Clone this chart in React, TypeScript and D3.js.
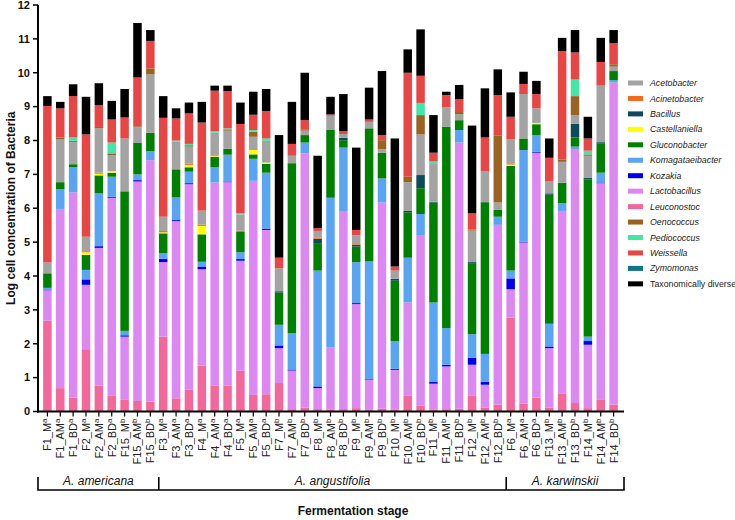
import React from "react";
import * as d3 from "d3";

// fermentation samples, left to right
const samples = [
  "F1_M", "F1_AM", "F1_BD", "F2_M", "F2_AM", "F2_BD", "F15_M", "F15_AM", "F15_BD",
  "F3_M", "F3_AM", "F3_BD", "F4_M", "F4_AM", "F4_BD", "F5_M", "F5_AM", "F5_BD",
  "F7_M", "F7_AM", "F7_BD", "F8_M", "F8_AM", "F8_BD", "F9_M", "F9_AM", "F9_BD",
  "F10_M", "F10_AM", "F10_BD", "F11_M", "F11_AM", "F11_BD", "F12_M", "F12_AM", "F12_BD",
  "F6_M", "F6_AM", "F6_BD", "F13_M", "F13_AM", "F13_BD", "F14_M", "F14_AM", "F14_BD",
];
const superscripts = [
  "a", "a", "a", "a", "a", "a", "b", "b", "b",
  "a", "a", "a", "a", "a", "a", "a", "a", "a",
  "b", "b", "b", "b", "b", "b", "b", "b", "b",
  "b", "b", "b", "b", "b", "b", "b", "b", "b",
  "a", "a", "a", "b", "b", "b", "b", "b", "b",
];

const species = [
  { name: "A. americana", first: 0, last: 8 },
  { name: "A. angustifolia", first: 9, last: 35 },
  { name: "A. karwinskii", first: 36, last: 44 },
];

// log cell concentration contributed by each genus
const leuconostoc = [2.68, 0.69, 0.41, 1.84, 0.76, 0.46, 0.36, 0.31, 0.29, 2.21, 0.39, 0.64, 1.36, 0.77, 0.77, 1.2, 0.49, 0.51, 0.84, 0.07, 0.12, 0.07, 0.05, 0.07, 0.1, 0.05, 0.08, 0.05, 0.46, 0.18, 0.05, 0.07, 0.08, 0.46, 0.12, 0.2, 2.77, 0.23, 0.41, 0.12, 0.52, 0.25, 0.1, 0.36, 0.2];
const lactobacillus = [0.9, 5.29, 6.06, 1.9, 4.07, 5.85, 1.85, 6.48, 7.13, 2.2, 5.23, 6.07, 2.84, 5.99, 6.0, 3.25, 6.32, 4.85, 1.03, 1.14, 7.5, 0.62, 1.84, 5.85, 3.07, 0.88, 6.09, 1.18, 2.76, 5.01, 0.77, 1.26, 7.86, 0.92, 0.67, 5.31, 0.84, 4.76, 7.23, 1.75, 5.4, 7.5, 1.87, 6.38, 9.51];
const kozakia = [0.02, 0, 0, 0.16, 0.05, 0.03, 0.04, 0.04, 0, 0.1, 0.03, 0.03, 0.08, 0, 0.02, 0.05, 0, 0.04, 0.08, 0.03, 0, 0.05, 0, 0, 0.03, 0.02, 0, 0.03, 0, 0, 0.05, 0.05, 0, 0.21, 0.09, 0, 0.32, 0.02, 0.03, 0.05, 0, 0, 0.11, 0.02, 0];
const komagataeibacter = [0.05, 0.58, 0.74, 0.28, 1.56, 0.59, 0.13, 0.17, 0.27, 0.16, 0.67, 0.34, 0.14, 0.45, 0.79, 0.2, 0.65, 1.65, 0.61, 1.07, 0.32, 3.42, 4.42, 1.87, 1.21, 3.48, 0.71, 0.82, 1.32, 0.64, 2.35, 1.08, 0.37, 0.69, 0.82, 0.24, 0.23, 2.71, 0.49, 0.67, 0.23, 0.07, 0.13, 0.29, 0.07];
const gluconobacter = [0.43, 0.21, 0.09, 0.44, 0.53, 0.12, 4.12, 0.9, 0.54, 0.59, 0.81, 0.13, 0.81, 0.31, 0.18, 0.6, 0.13, 0.26, 0.95, 5.02, 0.22, 0.79, 2.0, 0.22, 0.46, 3.93, 0.76, 1.78, 1.34, 0.76, 2.95, 5.95, 0.29, 2.1, 4.48, 0.2, 3.09, 0.34, 0.32, 3.81, 0.57, 0.27, 4.64, 0.87, 0.27];
const castellaniella = [0, 0, 0, 0.08, 0.05, 0.05, 0, 0, 0, 0.03, 0, 0.07, 0.25, 0.02, 0, 0, 0.13, 0.04, 0, 0, 0, 0, 0, 0, 0, 0, 0, 0, 0, 0, 0, 0, 0, 0, 0, 0, 0.04, 0, 0.04, 0, 0, 0, 0, 0, 0];
const bacillus = [0, 0, 0, 0, 0, 0, 0, 0.04, 0, 0, 0, 0, 0, 0, 0, 0, 0, 0, 0.04, 0, 0, 0.15, 0, 0.07, 0.05, 0, 0, 0.06, 0.04, 0.39, 0.02, 0, 0, 0.03, 0, 0, 0, 0, 0, 0.04, 0.03, 0.4, 0.05, 0.03, 0];
const acinetobacter = [0, 0, 0, 0.03, 0.03, 0, 0, 0, 0, 0.04, 0.03, 0.04, 0.04, 0.02, 0, 0.04, 0, 0, 0, 0, 0, 0.04, 0, 0, 0.02, 0, 0, 0, 0, 0, 0, 0, 0, 0, 0, 0, 0.02, 0, 0, 0, 0, 0, 0, 0, 0];
const acetobacter = [0.32, 1.26, 0.66, 0.43, 1.31, 0.47, 1.56, 0.45, 1.72, 0.42, 0.8, 0.5, 0.41, 0.67, 0.53, 0.48, 0.39, 0.64, 0.68, 0.22, 0.13, 0.19, 0.42, 0.11, 0.26, 0.19, 0.1, 0.24, 0.85, 1.2, 1.14, 0.57, 0.18, 0.93, 0.92, 0.22, 0.72, 1.31, 0.43, 0.35, 0.62, 0.26, 0.65, 1.67, 0.13];
const oenococcus = [0, 0.06, 0.03, 0, 0.04, 0.05, 0, 0.03, 0.18, 0, 0, 0.04, 0, 0, 0.04, 0, 0.15, 0, 0, 0, 0.04, 0, 0, 0, 0, 0, 0.27, 0, 0.16, 0.57, 0, 0, 0.06, 0.03, 0, 1.97, 0, 0, 0, 0, 0.07, 0.56, 0.04, 0, 0.07];
const pediococcus = [0, 0, 0.1, 0, 0, 0.32, 0, 0, 0, 0, 0.04, 0.04, 0, 0.05, 0.03, 0.03, 0.05, 0.07, 0, 0, 0, 0, 0, 0, 0, 0, 0, 0, 0, 0.36, 0.05, 0, 0, 0, 0, 0, 0, 0, 0, 0, 0, 0.49, 0.11, 0, 0];
const weissella = [4.62, 0.86, 1.22, 3.02, 0.64, 0.68, 0.62, 1.44, 0.81, 2.92, 0.65, 0.9, 2.6, 1.19, 1.1, 2.64, 0.45, 0.81, 0.31, 0.35, 0.27, 0.08, 0.04, 0.09, 0.16, 0.07, 0.15, 0.12, 3.07, 0.8, 0.26, 0.36, 0.38, 0.48, 0.99, 1.2, 0.67, 0.3, 0.42, 0.7, 3.2, 0.8, 0.36, 0.7, 0.62];
const zymomonas = [0, 0, 0, 0, 0, 0, 0, 0, 0, 0, 0, 0, 0, 0, 0, 0, 0, 0, 0, 0, 0, 0, 0, 0, 0, 0, 0, 0, 0, 0, 0, 0, 0, 0, 0, 0, 0, 0, 0, 0, 0, 0, 0, 0, 0];
const taxDiverse = [0.29, 0.19, 0.35, 1.11, 0.65, 0.55, 0.84, 1.61, 0.32, 0.64, 0.3, 0.32, 0.61, 0.15, 0.16, 0.63, 0.68, 0.65, 3.62, 1.24, 1.4, 2.14, 0.52, 1.09, 2.43, 0.94, 1.89, 3.78, 0.69, 1.37, 1.11, 0.1, 0.42, 2.59, 1.45, 0.76, 0.72, 0.36, 0.39, 0.57, 0.39, 0.66, 0.64, 0.71, 0.39];

// legend order (alphabetical, "Taxonomically diverse" last)
const genera = [
  { key: "acetobacter", label: "Acetobacter", color: "#a3a3a3", values: acetobacter, italic: true },
  { key: "acinetobacter", label: "Acinetobacter", color: "#f26a1b", values: acinetobacter, italic: true },
  { key: "bacillus", label: "Bacillus", color: "#0c4a5c", values: bacillus, italic: true },
  { key: "castellaniella", label: "Castellaniella", color: "#ffff00", values: castellaniella, italic: true },
  { key: "gluconobacter", label: "Gluconobacter", color: "#008000", values: gluconobacter, italic: true },
  { key: "komagataeibacter", label: "Komagataeibacter", color: "#5aa4f4", values: komagataeibacter, italic: true },
  { key: "kozakia", label: "Kozakia", color: "#0000ee", values: kozakia, italic: true },
  { key: "lactobacillus", label: "Lactobacillus", color: "#dc87f2", values: lactobacillus, italic: true },
  { key: "leuconostoc", label: "Leuconostoc", color: "#f4679a", values: leuconostoc, italic: true },
  { key: "oenococcus", label: "Oenococcus", color: "#9b6322", values: oenococcus, italic: true },
  { key: "pediococcus", label: "Pediococcus", color: "#42e6a6", values: pediococcus, italic: true },
  { key: "weissella", label: "Weissella", color: "#e84545", values: weissella, italic: true },
  { key: "zymomonas", label: "Zymomonas", color: "#0e7486", values: zymomonas, italic: true },
  { key: "taxDiverse", label: "Taxonomically diverse", color: "#000000", values: taxDiverse, italic: false },
];

// bottom-to-top stacking order
const stackOrder = [
  "leuconostoc", "lactobacillus", "kozakia", "komagataeibacter", "gluconobacter",
  "castellaniella", "bacillus", "acinetobacter", "acetobacter", "oenococcus",
  "pediococcus", "weissella", "zymomonas", "taxDiverse",
];

const yTicks = [0, 1, 2, 3, 4, 5, 6, 7, 8, 9, 10, 11, 12];

const FONT = "'Liberation Sans', Arial, sans-serif";

export default function App() {
  const width = 735;
  const height = 520;
  const left = 38;
  const right = 623;
  const bottom = 411.5;
  const top = 5;

  const x = d3.scaleBand<number>()
    .domain(d3.range(samples.length))
    .range([left, right])
    .paddingInner(0.34)
    .paddingOuter(0.4);
  const y = d3.scaleLinear().domain([0, 12]).range([bottom, top]);

  const byKey = new Map(genera.map((g) => [g.key, g]));
  const rows = samples.map((_, i) => {
    const r: Record<string, number> = {};
    genera.forEach((g) => (r[g.key] = g.values[i]));
    return r;
  });
  const series = d3.stack<Record<string, number>>().keys(stackOrder)(rows);

  const bw = x.bandwidth();
  const cx = (i: number) => (x(i) as number) + bw / 2;

  const bracketY = 490;
  const bracketTop = 477;
  const edges = species.map((s, k) => {
    const x0 = k === 0 ? left : (cx(s.first - 1) + cx(s.first)) / 2 + 2;
    const x1 = k === species.length - 1 ? right + 1 : (cx(s.last) + cx(s.last + 1)) / 2 + 2;
    return { ...s, x0, x1 };
  });

  return (
    <svg width={width} height={height} style={{ position: "absolute", left: 0, top: 0, background: "#fff" }} fontFamily={FONT}>
      {/* stacked bars */}
      {series.map((s) => (
        <g key={s.key} fill={byKey.get(s.key)!.color}>
          {s.map((d, i) =>
            d[1] - d[0] > 0 ? (
              <rect key={i} x={x(i)} width={bw} y={y(d[1])} height={y(d[0]) - y(d[1])} />
            ) : null
          )}
        </g>
      ))}

      {/* y axis */}
      <line x1={left} x2={left} y1={top} y2={bottom + 1} stroke="#000" strokeWidth={2} />
      {yTicks.map((t) => (
        <g key={t} transform={`translate(0,${y(t)})`}>
          <line x1={left - 5} x2={left} stroke="#000" strokeWidth={1.5} />
          <text x={left - 8} dy="0.35em" textAnchor="end" fontSize={11} fontWeight="bold" fill="#111">
            {t}
          </text>
        </g>
      ))}
      <text
        transform={`translate(15,${(top + bottom) / 2}) rotate(-90)`}
        textAnchor="middle"
        fontSize={12}
        fontWeight="bold"
        fill="#111"
      >
        Log cell concentration of Bacteria
      </text>

      {/* x axis */}
      <line x1={left - 1} x2={right + 1} y1={bottom} y2={bottom} stroke="#000" strokeWidth={2} />
      {samples.map((s, i) => (
        <g key={s}>
          <line x1={cx(i)} x2={cx(i)} y1={bottom} y2={bottom + 5} stroke="#000" strokeWidth={1.2} />
          <text
            transform={`translate(${cx(i) + 4},${bottom + 7}) rotate(-90)`}
            textAnchor="end"
            fontSize={11}
            fill="#222"
          >
            {s}
            <tspan fontSize={8} dy={-4}>{superscripts[i]}</tspan>
          </text>
        </g>
      ))}

      {/* species brackets */}
      <path
        d={`M${left},${bracketTop}V${bracketY}H${right + 1}V${bracketTop}`}
        fill="none"
        stroke="#000"
        strokeWidth={1.6}
      />
      {edges.slice(1).map((e) => (
        <line key={e.name} x1={e.x0} x2={e.x0} y1={bracketTop} y2={bracketY} stroke="#000" strokeWidth={1.6} />
      ))}
      {edges.map((e) => (
        <text key={e.name} x={(e.x0 + e.x1) / 2} y={485} textAnchor="middle" fontSize={12} fontStyle="italic" fill="#111">
          {e.name}
        </text>
      ))}
      <text x={353} y={515} textAnchor="middle" fontSize={12} fontWeight="bold" fill="#111">
        Fermentation stage
      </text>

      {/* legend */}
      {genera.map((g, i) => (
        <g key={g.key} transform={`translate(628,${83 + i * 15.45})`}>
          <rect x={0} y={-2.5} width={15} height={5} fill={g.color} />
          <text x={22} dy="0.35em" fontSize={8.8} fontStyle={g.italic ? "italic" : "normal"} fill="#222">
            {g.label}
          </text>
        </g>
      ))}
    </svg>
  );
}
